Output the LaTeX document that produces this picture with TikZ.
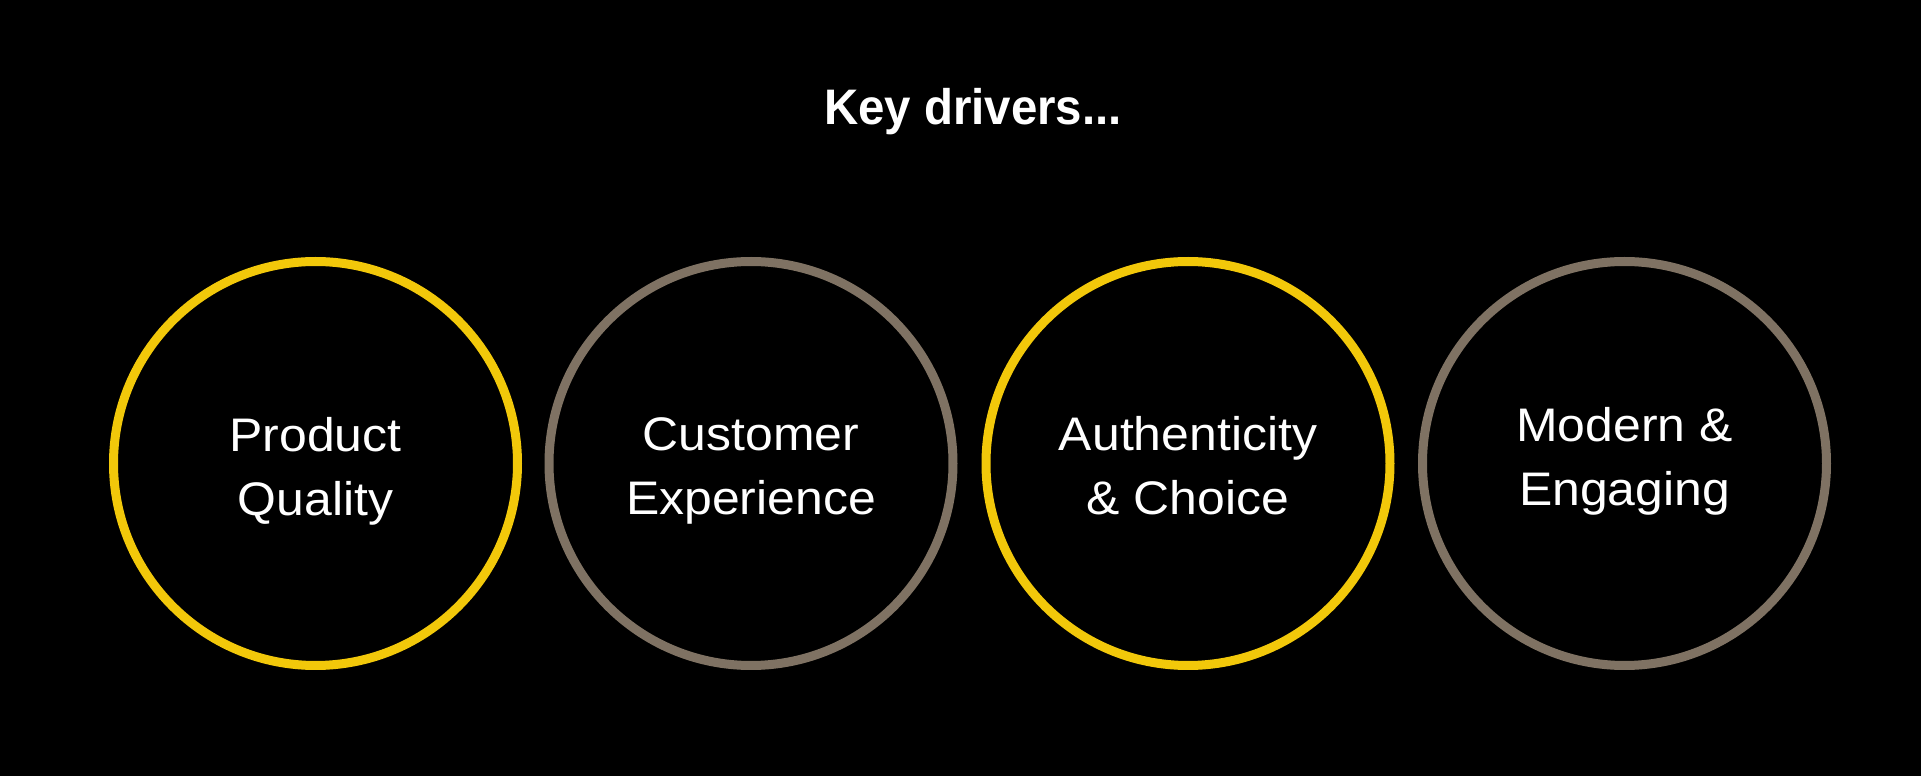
\documentclass[tikz,border=0pt]{standalone}
\usepackage{fontspec}
\setmainfont{Liberation Sans}
\newfontfamily\driverfont[FakeStretch=1.06]{Liberation Sans}
\newfontfamily\titlefont[FakeStretch=0.95]{Liberation Sans}
\usepackage{tikz}
\usetikzlibrary{positioning}
\usepackage{xcolor}
\definecolor{ringyellow}{RGB}{242,200,10}
\definecolor{ringgray}{RGB}{127,114,99}

\begin{document}
\begin{tikzpicture}[ring/.style={circle,draw,line width=0.09cm,inner sep=0pt,minimum size=4.04cm},
  driver/.style={text=white,align=center,font=\driverfont\fontsize{13.4}{18.2}\selectfont}]
\fill[black] (0,0) rectangle (19.21,7.76);
\useasboundingbox (0,0) rectangle (19.21,7.76);
\node[anchor=base,text=white,font=\titlefont\bfseries\fontsize{14.2}{17}\selectfont] (title) at (9.73,6.51) {Key drivers...};
\node[ring,draw=ringyellow] (quality) at (3.155,3.125) {};
\node[ring,draw=ringgray] (experience) at (7.51,3.125) {};
\node[ring,draw=ringyellow] (choice) at (11.88,3.125) {};
\node[ring,draw=ringgray] (engaging) at (16.245,3.125) {};
\node[driver,yshift=-0.075cm] (qualitytext) at (quality) {Product\\Quality};
\node[driver,yshift=-0.075cm] (experiencetext) at (experience) {Customer\\Experience};
\node[driver,yshift=-0.025cm] (choicetext) at (choice) {Authenticity\\\&~Choice};
\node[driver,yshift=0.02cm] (engagingtext) at (engaging) {Modern~\&\\Engaging};
\end{tikzpicture}
\end{document}
